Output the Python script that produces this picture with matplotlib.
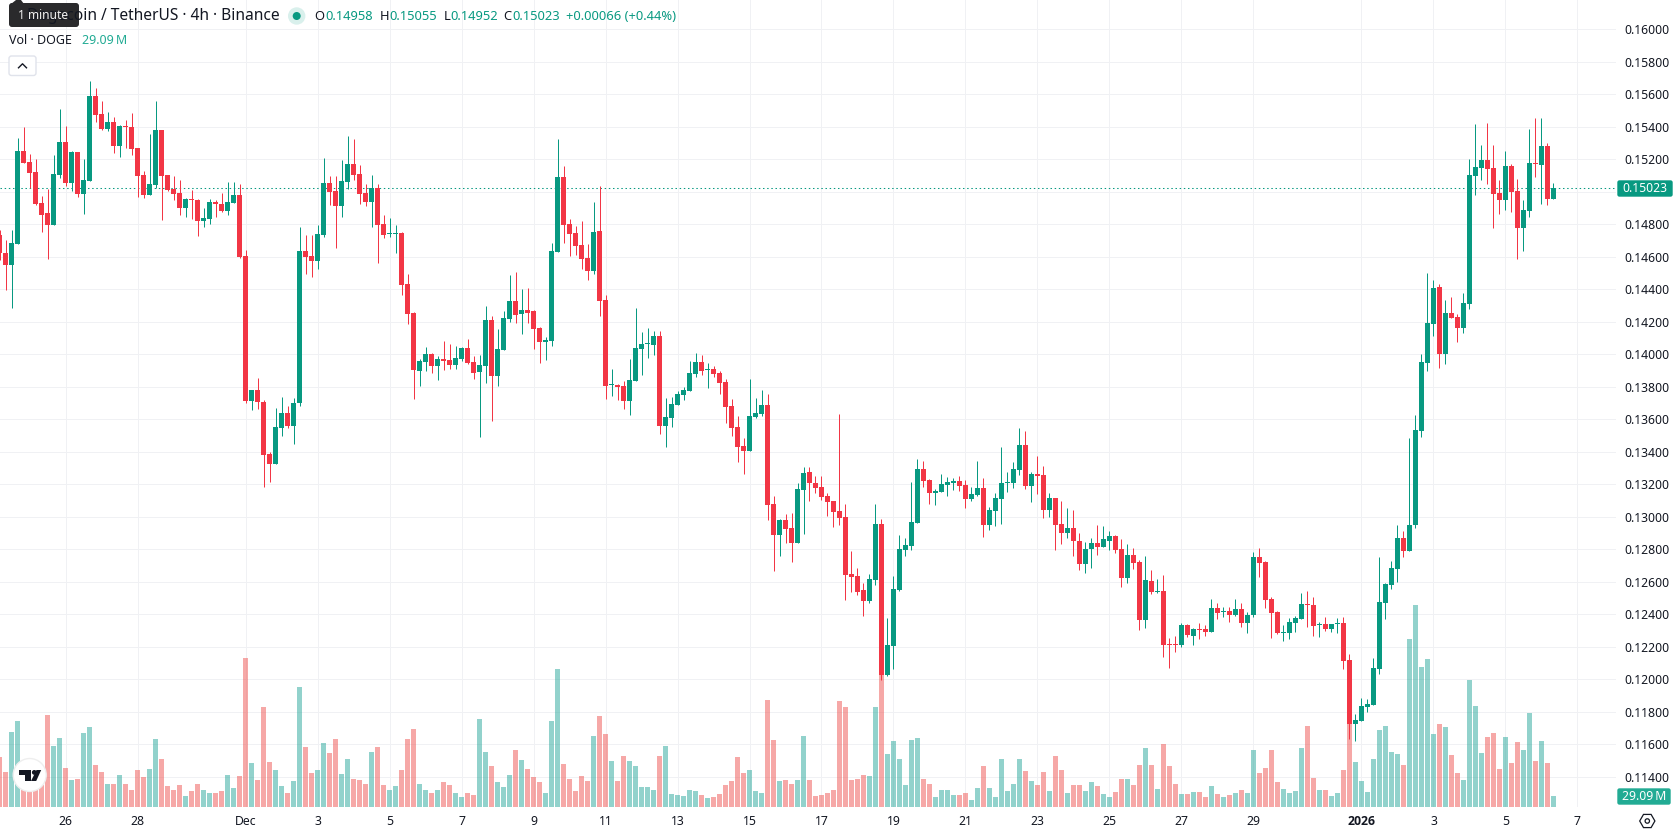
import numpy as np
import matplotlib
matplotlib.use('Agg')
import matplotlib.pyplot as plt
from matplotlib.patches import Circle, FancyBboxPatch, Polygon, RegularPolygon, Rectangle

plt.rcParams['font.family'] = ['Noto Sans', 'DejaVu Sans']

# DOGE/USDT 4h candles, prices in 1e-5 USDT
opens = [
    14734,14621,14549,14678,15250,15181,15121,14929,14867,14795,
    15103,15306,15056,15244,14988,15068,15589,15478,15386,15429,
    15281,15404,15398,15269,15103,14982,15041,15380,15103,15017,
    14992,14900,14955,14949,14820,14832,14937,14924,14881,14931,
    14980,14605,13713,13780,13707,13387,13325,13547,13639,13559,
    13701,14635,14605,14574,14734,15054,15004,14912,15060,15170,
    15109,14992,14937,15023,14801,14740,14740,14746,14432,14254,
    13897,13953,14002,13928,13971,13965,13934,13971,14039,13953,
    13891,13928,14211,13867,14027,14217,14328,14248,14273,14266,
    14162,14076,14082,14629,15090,14801,14746,14672,14592,14512,
    14758,14334,13811,13811,13805,13713,13836,14033,14063,14057,
    14113,13559,13608,13688,13750,13774,13879,13953,13904,13910,
    13885,13830,13682,13553,13436,13405,13614,13633,13688,13079,
    12889,12981,12932,12840,13166,13276,13209,13184,13129,13098,
    13036,13000,12649,12637,12550,12483,12612,12956,12028,12206,
    12550,12796,12821,12963,13295,13227,13147,13153,13196,13209,
    13221,13196,13110,13135,13178,12950,13036,13110,13209,13207,
    13287,13441,13189,13262,13256,13041,13115,12955,12900,12930,
    12850,12709,12801,12838,12813,12850,12881,12801,12623,12764,
    12721,12364,12604,12537,12543,12217,12217,12211,12334,12266,
    12309,12309,12291,12438,12414,12420,12395,12432,12346,12395,
    12752,12721,12494,12414,12285,12285,12346,12371,12463,12457,
    12334,12340,12309,12340,12346,12118,11725,11743,11829,11842,
    12063,12469,12580,12678,12869,12789,12949,13528,13947,14186,
    14414,14000,14254,14229,14162,14309,15097,15146,15195,15146,
    14992,14949,15158,15004,14777,14881,15177,15164,15281,14958,
]
highs = [
    14764,14703,14764,15328,15400,15232,15201,14976,15017,15226,
    15509,15404,15250,15244,15201,15681,15638,15558,15490,15459,
    15410,15441,15484,15269,15127,15355,15558,15380,15103,15097,
    15072,14961,15011,14953,14900,14955,14949,14992,15060,15060,
    15047,14642,13780,13854,13719,13399,13670,13737,13682,13731,
    14783,14734,14734,14795,15207,15097,15097,15195,15343,15324,
    15164,15047,15103,15047,14857,14838,14795,14752,14494,14260,
    13971,14045,14008,13990,14082,14063,14051,14045,14094,13990,
    13996,14297,14236,14156,14266,14488,14506,14402,14408,14273,
    14168,14106,14685,15324,15158,14832,14789,14820,14678,14937,
    15035,14365,13910,13817,13836,13971,14283,14137,14162,14143,
    14143,13731,13737,13774,13799,13959,14008,13996,13947,13928,
    13897,13848,13725,13621,13485,13848,13731,13780,13756,13129,
    12987,13018,13024,13209,13307,13307,13252,13252,13147,13098,
    13633,13079,12790,12686,12594,12649,13079,12987,12378,12637,
    12889,12870,13215,13356,13344,13233,13172,13264,13245,13239,
    13252,13227,13184,13344,13239,13061,13147,13430,13276,13336,
    13545,13527,13275,13373,13312,13146,13115,13096,13053,13041,
    12900,12844,12869,12949,12943,12912,12887,12863,12832,12807,
    12733,12758,12672,12617,12641,12254,12266,12346,12340,12315,
    12346,12334,12494,12469,12444,12444,12494,12469,12414,12783,
    12807,12727,12506,12420,12334,12377,12389,12531,12543,12506,
    12352,12383,12340,12377,12383,12155,11786,11885,11879,12131,
    12752,12592,12727,12949,12912,13484,13627,14002,14500,14457,
    14432,14334,14352,14248,14377,15201,15416,15287,15422,15287,
    15072,15250,15170,15078,14949,15386,15453,15453,15300,15055,
]
lows = [
    14580,14395,14285,14678,15179,15025,14918,14754,14588,14795,
    15086,15037,15006,14970,14865,15068,15429,15380,15375,15240,
    15215,15269,15226,14967,14961,14982,15023,14826,15006,14949,
    14857,14844,14832,14728,14783,14801,14844,14875,14857,14931,
    14594,13701,13657,13664,13184,13215,13325,13498,13547,13448,
    13682,14494,14475,14525,14721,14918,14654,14844,15017,15072,
    14924,14912,14783,14562,14715,14721,14623,14365,14186,13725,
    13805,13897,13885,13842,13903,13910,13910,13959,13940,13848,
    13491,13824,13590,13805,14027,14199,14193,14125,14193,14033,
    13947,13965,14051,14629,14685,14605,14611,14525,14457,14494,
    14236,13725,13744,13719,13664,13627,13836,13873,13977,13996,
    13510,13430,13553,13688,13719,13774,13860,13873,13793,13860,
    13756,13578,13498,13338,13264,13405,13608,13621,12981,12667,
    12760,12840,12723,12840,12895,13098,13147,13104,13006,12938,
    12950,12489,12538,12520,12391,12470,12581,11997,12017,12065,
    12544,12760,12796,12963,13184,13079,13073,13153,13129,13165,
    13159,13055,13098,13129,12876,12919,12944,12956,13153,13176,
    13256,13170,13090,13139,12992,13000,12795,12832,12869,12758,
    12672,12654,12684,12764,12813,12795,12777,12567,12592,12678,
    12303,12315,12524,12531,12137,12069,12168,12198,12260,12211,
    12248,12266,12291,12371,12383,12352,12389,12321,12284,12383,
    12629,12438,12254,12278,12235,12248,12291,12371,12321,12266,
    12260,12297,12291,12284,12063,11633,11620,11743,11799,11842,
    12032,12371,12555,12598,12752,12789,12931,13491,13897,14113,
    13916,13940,14223,14076,14131,14279,14980,15072,15047,14777,
    14863,14887,14875,14586,14635,14844,15090,14924,14918,14952,
]
closes = [
    14621,14549,14682,15250,15179,15117,14924,14857,14795,15109,
    15306,15056,15244,14988,15072,15589,15474,15386,15429,15281,
    15404,15398,15263,15099,14982,15047,15380,15099,15011,14986,
    14900,14955,14949,14820,14838,14937,14924,14881,14937,14980,
    14598,13713,13780,13707,13381,13325,13553,13639,13559,13701,
    14635,14598,14574,14740,15054,14998,14912,15066,15170,15103,
    14986,14937,15023,14795,14734,14746,14746,14426,14248,13903,
    13959,14002,13928,13971,13959,13934,13977,14039,13947,13885,
    13934,14211,13867,14033,14223,14328,14242,14273,14254,14156,
    14076,14088,14635,15090,14795,14740,14666,14586,14512,14752,
    14328,13805,13817,13799,13713,13842,14039,14063,14070,14113,
    13559,13614,13694,13756,13781,13885,13953,13897,13910,13879,
    13824,13676,13547,13430,13405,13621,13639,13688,13073,12889,
    12981,12926,12840,13172,13270,13209,13178,13122,13092,13030,
    12993,12643,12630,12538,12483,12618,12956,12028,12212,12557,
    12803,12827,12969,13295,13221,13147,13159,13202,13215,13221,
    13190,13110,13141,13178,12950,13042,13116,13209,13215,13293,
    13441,13189,13262,13250,13041,13115,12949,12900,12930,12850,
    12709,12801,12838,12813,12863,12881,12795,12623,12764,12715,
    12364,12610,12537,12543,12211,12211,12211,12334,12272,12309,
    12303,12291,12438,12408,12420,12395,12432,12346,12395,12752,
    12715,12487,12408,12285,12291,12352,12377,12463,12457,12328,
    12340,12309,12340,12346,12112,11725,11749,11836,11848,12069,
    12475,12586,12684,12869,12789,12949,13534,13953,14193,14408,
    14002,14254,14223,14162,14316,15103,15152,15195,15140,14986,
    14949,15158,14998,14777,14887,15177,15170,15281,14955,15023,
]
# volume per bar, millions of DOGE
volumes = [
    131,92,199,226,49,49,49,57,242,160,
    182,104,70,75,194,211,111,92,62,62,
    84,60,44,97,79,99,179,126,55,44,
    57,28,41,62,44,36,38,41,84,50,
    81,393,116,70,265,118,97,55,36,68,
    316,158,89,97,170,142,179,86,128,75,
    70,62,145,158,57,46,55,97,179,206,
    62,44,36,44,65,57,38,26,36,31,
    231,145,107,65,52,84,150,123,99,79,
    65,38,226,364,113,75,41,81,68,187,
    240,192,121,68,134,121,107,52,52,44,
    134,160,33,31,28,46,41,31,23,26,
    33,57,68,131,89,97,41,36,282,176,
    68,70,60,70,187,70,28,31,38,46,
    279,263,70,73,84,81,263,360,139,174,
    126,57,176,182,73,62,26,44,44,31,
    31,36,18,50,107,50,26,126,41,62,
    128,94,68,57,92,41,134,97,38,57,
    57,41,65,55,33,26,39,73,73,57,
    110,155,110,47,165,107,60,33,33,39,
    39,26,55,33,26,31,36,44,36,150,
    89,102,150,65,47,36,41,155,213,76,
    44,44,28,36,97,225,118,68,39,126,
    202,213,144,139,110,443,532,369,390,192,
    218,210,136,89,70,334,266,142,184,194,
    99,184,115,171,150,247,121,173,115,29.09,
]

# x axis labels sit on the first bar of the day
date_ticks = [11, 23, 41, 53, 65, 77, 89, 101, 113, 125, 137, 149, 161, 173,
              185, 197, 209, 227, 239, 251, 263]
date_labels = ['26', '28', 'Dec', '3', '5', '7', '9', '11', '13', '15', '17', '19',
               '21', '23', '25', '27', '29', '2026', '3', '5', '7']
price_ticks = np.arange(11400, 16001, 200) / 1e5

opens = np.array(opens) / 1e5
highs = np.array(highs) / 1e5
lows = np.array(lows) / 1e5
closes = np.array(closes) / 1e5
volumes = np.array(volumes, dtype=float)
idx = np.arange(len(opens))

GREEN = '#089981'
RED = '#F23645'
GRID = '#f0f1f4'
TEXT = '#131722'
TEAL = '#22ab94'

up = closes >= opens
colors = np.where(up, GREEN, RED)
vol_colors = np.where(up, '#26a69a', '#ef5350')

W, H = 1678, 835
fig = plt.figure(figsize=(W / 100, H / 100), dpi=100, facecolor='white')
rect = [0, (H - 807) / H, 1616 / W, 807 / H]

# bottom layer: grid and axis labels
ax_bg = fig.add_axes(rect, zorder=0)
ax_bg.set_xlim(0.0833, 269.4167)
ax_bg.set_ylim(0.112135, 0.161797)
for s in ax_bg.spines.values():
    s.set_visible(False)
ax_bg.yaxis.tick_right()
ax_bg.set_yticks(price_ticks)
# the last price badge takes the place of 0.15000
ax_bg.set_yticklabels(['' if abs(p - 0.15) < 1e-6 else '%.5f' % p for p in price_ticks])
ax_bg.set_xticks(date_ticks)
ax_bg.set_xticklabels(date_labels)
ax_bg.tick_params(axis='y', length=0, pad=6, labelsize=8.8, labelcolor=TEXT)
ax_bg.tick_params(axis='x', length=0, pad=5.5, labelsize=8.8, labelcolor=TEXT)
for t in ax_bg.get_xticklabels():
    if t.get_text() == '2026':
        t.set_family('Open Sans')
        t.set_fontweight('bold')
ax_bg.grid(True, color=GRID, linewidth=0.72)
ax_bg.set_axisbelow(True)

# volume pane on its own scale
ax_vol = fig.add_axes(rect, zorder=1, sharex=ax_bg)
ax_vol.set_ylim(0, 2130)
ax_vol.patch.set_visible(False)
ax_vol.axis('off')
ax_vol.bar(idx, volumes, width=5 / 6, color=vol_colors, alpha=0.5, linewidth=0)

# candles
ax = fig.add_axes(rect, zorder=2, sharex=ax_bg, sharey=ax_bg)
ax.patch.set_visible(False)
ax.axis('off')
ax.axhline(closes[-1], color=GREEN, linewidth=0.75, linestyle=(0, (1.4, 2.6)), zorder=1)
ax.vlines(idx, lows, highs, colors=colors, linewidth=0.72, zorder=2)
body_low = np.minimum(opens, closes)
body_h = np.maximum(np.abs(closes - opens), 0.00006)
ax.bar(idx, body_h, bottom=body_low, width=5 / 6, color=colors, linewidth=0, zorder=3)

# header, badges and widgets in pixel coordinates
ov = fig.add_axes([0, 0, 1, 1], zorder=3)
ov.set_xlim(0, W)
ov.set_ylim(H, 0)
ov.axis('off')

FS = 9.3
ov.text(279.5, 16.5, 'Dogecoin / TetherUS · 4h · Binance', fontsize=11.2, color=TEXT,
        ha='right', va='center')
ov.add_patch(Circle((296.7, 16), 8.7, color='#d9f0ec', linewidth=0))
ov.add_patch(Circle((296.7, 16), 4, color=GREEN, linewidth=0))
for x, label, val in [(314.3, 'O', opens[-1]), (379.3, 'H', highs[-1]),
                      (443.3, 'L', lows[-1]), (503.7, 'C', closes[-1])]:
    ov.text(x, 16.5, label, fontsize=FS, color=TEXT, va='center')
    ov.text(x + {'O': 11.4, 'H': 10, 'L': 6.7, 'C': 9}[label], 16.5, '%.5f' % val,
            fontsize=FS, color=GREEN, va='center')
ov.text(565.7, 16.5, '+0.00066 (+0.44%)', fontsize=FS, color=GREEN, va='center')

ov.text(9, 40.7, 'Vol · DOGE', fontsize=9.0, color=TEXT, va='center')
ov.text(81.7, 40.7, '%.2f\u2009M' % volumes[-1], fontsize=9.0, color=TEAL, va='center')

# hover tooltip
ov.add_patch(FancyBboxPatch((9, 3), 70, 24, boxstyle='round,pad=0,rounding_size=3',
                            facecolor='#2a2a2c', edgecolor='none', linewidth=0))
ov.add_patch(Polygon([(11, 4), (16, 0), (21, 0), (24, 4)], color='#2a2a2c', linewidth=0))
ov.text(18, 15.5, '1 minute', fontsize=8.6, color='#f0f0f0', va='center')

# collapse button
ov.add_patch(FancyBboxPatch((9, 56), 27, 19.5, boxstyle='round,pad=0,rounding_size=2.5',
                            facecolor='white', edgecolor='#e0e3eb', linewidth=1))
ov.plot([18.5, 22.5, 26.5], [67.8, 63.8, 67.8], color=TEXT, linewidth=1)

# price badges
ov.add_patch(FancyBboxPatch((1618, 181), 54, 15, boxstyle='round,pad=0,rounding_size=1.5',
                            facecolor=GREEN, edgecolor=GREEN, linewidth=1))
ov.text(1644.5, 188.5, '%.5f' % closes[-1], fontsize=8.8, color='white', ha='center', va='center')
ov.add_patch(FancyBboxPatch((1618, 789), 52, 15, boxstyle='round,pad=0,rounding_size=1.5',
                            facecolor=TEAL, edgecolor=TEAL, linewidth=1))
ov.text(1644, 796.5, '%.2f\u2009M' % volumes[-1], fontsize=8.8, color='white', ha='center', va='center')

# settings icon
ov.add_patch(RegularPolygon((1647.3, 821), 6, radius=7.6, orientation=np.pi / 2,
                            facecolor='white', edgecolor=TEXT, linewidth=0.9))
ov.add_patch(Circle((1647.3, 821), 2.2, facecolor='white', edgecolor=TEXT, linewidth=0.9))

# chart logo
ov.add_patch(Circle((29.7, 775), 16.5, facecolor='white', edgecolor='#eeeeee', linewidth=1))
ov.add_patch(Rectangle((18.6, 770), 12.6, 5.2, color='#131722', linewidth=0))
ov.add_patch(Rectangle((25, 770), 6.2, 11, color='#131722', linewidth=0))
ov.add_patch(Circle((34.3, 772.4), 2.4, color='#131722', linewidth=0))
ov.add_patch(Polygon([(36.5, 770), (41.2, 770), (36.2, 781), (31, 781)], color='#131722', linewidth=0))

fig.savefig('out.png', dpi=100, facecolor='white')
